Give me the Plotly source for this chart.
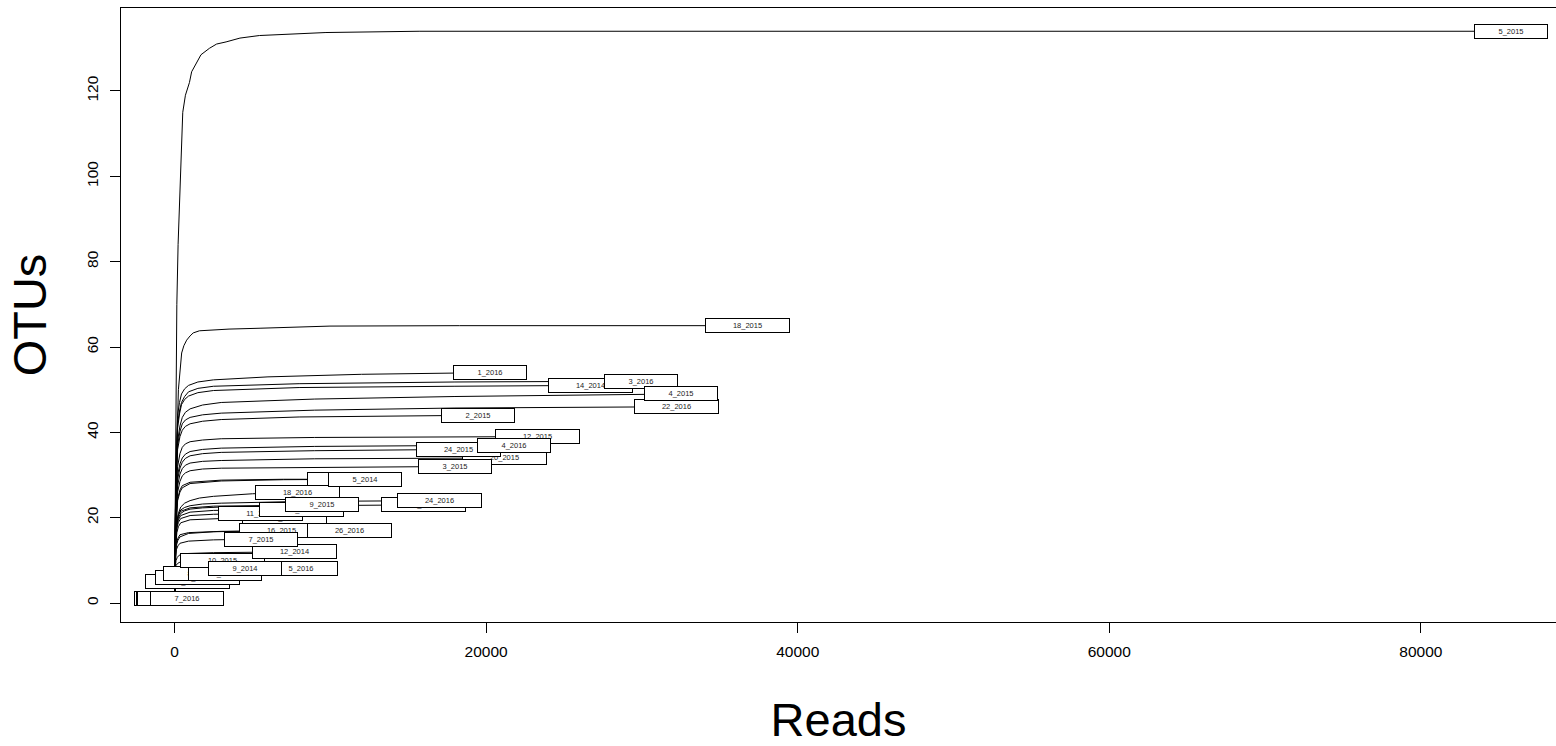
import plotly.graph_objects as go

# Rarefaction curves: sequencing depth (reads) vs. observed OTUs per sample.
# Each curve is given by points along it; the last point is the sample's
# total reads and observed OTU count, where its label sits.

labels = [
    "5_2015", "18_2015", "1_2016", "3_2016", "14_2014", "4_2015", "22_2016",
    "2_2015", "12_2015", "4_2016", "24_2015", "20_2015", "3_2015", "5_2014",
    "13_2014", "18_2016", "24_2016", "16_2016", "9_2015", "19_2015", "11_2016",
    "20_2016", "16_2015", "26_2016", "7_2015", "12_2014", "10_2015", "9_2014",
    "5_2016", "8_2014", "6_2016", "10_2014", "15_2016", "7_2016", "17_2016",
    "21_2016", "23_2016",
]

reads_pts = [
    [1, 60, 110, 150, 230, 320, 400, 530, 700, 960, 1100, 1390, 1700, 2240,
     2700, 3310, 4200, 5450, 7000, 9720, 15700, 40000, 85800],
    [1, 100, 250, 350, 460, 600, 780, 1000, 1200, 1600, 2280, 3500, 5490,
     9980, 18300, 36750],
    [1, 80, 200, 320, 450, 650, 900, 1500, 2500, 6000, 12000, 20250],
    [1, 80, 200, 320, 450, 650, 900, 1500, 2500, 8000, 18000, 29940],
    [1, 80, 200, 320, 450, 650, 900, 1500, 2500, 8000, 18000, 26670],
    [1, 80, 200, 350, 500, 700, 1000, 1800, 3000, 9000, 18000, 32510],
    [1, 80, 200, 350, 500, 700, 1000, 1800, 3000, 9000, 18000, 32250],
    [1, 80, 200, 350, 500, 700, 1000, 1800, 3000, 8000, 19480],
    [1, 80, 200, 350, 500, 700, 1000, 1800, 3000, 9000, 23330],
    [1, 80, 200, 350, 500, 700, 1000, 1800, 3000, 9000, 21790],
    [1, 80, 200, 350, 500, 700, 1000, 1800, 3000, 9000, 18230],
    [1, 80, 200, 350, 500, 700, 1000, 1800, 3000, 9000, 21210],
    [1, 80, 200, 350, 500, 700, 1000, 1800, 3000, 9000, 18000],
    [1, 80, 200, 350, 500, 1000, 3000, 7000, 12200],
    [1, 80, 200, 350, 500, 1000, 3000, 7000, 11200],
    [1, 60, 150, 250, 400, 650, 1000, 1600, 2500, 5000, 7900],
    [1, 60, 150, 250, 400, 650, 1000, 1800, 3000, 8000, 17010],
    [1, 60, 150, 250, 400, 650, 1000, 1800, 3000, 8000, 15950],
    [1, 60, 150, 250, 400, 1000, 2500, 5500, 9470],
    [1, 60, 150, 250, 400, 1000, 2500, 5500, 8180],
    [1, 60, 150, 250, 400, 1000, 2500, 5490],
    [1, 60, 150, 250, 400, 1000, 3000, 7070],
    [1, 50, 120, 220, 350, 900, 2500, 6840],
    [1, 50, 120, 220, 350, 900, 3000, 7000, 11200],
    [1, 50, 120, 220, 350, 900, 2500, 5580],
    [1, 40, 100, 180, 300, 800, 2500, 7730],
    [1, 40, 100, 180, 300, 800, 3110],
    [1, 40, 100, 300, 800, 4525],
    [1, 40, 100, 300, 1000, 8120],
    [1, 30, 100, 400, 1640],
    [1, 30, 100, 400, 1200, 3240],
    [1, 30, 100, 400, 1480],
    [1, 30, 100, 300, 830],
    [1, 770],
    [1, 100],
    [1, 225],
    [1, 350],
]

otu_pts = [
    [1, 30, 57, 70, 84, 94, 104, 115, 119, 122, 124.5, 126.5, 128.5, 130,
     131, 131.5, 132.4, 133, 133.3, 133.7, 134, 134, 134],
    [1, 30, 50, 55, 58.6, 60.3, 61.6, 62.6, 63.3, 63.8, 64, 64.2, 64.4,
     64.9, 65, 65],
    [1, 30, 44, 47, 49, 50.2, 51, 51.8, 52.3, 53, 53.6, 54],
    [1, 28, 42, 45, 47, 48.4, 49.5, 50.3, 50.8, 51.4, 51.8, 52],
    [1, 28, 41, 44.3, 46.5, 47.7, 48.5, 49.3, 49.8, 50.5, 50.8, 51],
    [1, 26, 38, 41.5, 43.5, 44.7, 45.5, 46.4, 47, 47.8, 48.4, 49],
    [1, 26, 37, 40.2, 42, 42.9, 43.5, 44.1, 44.5, 45.2, 45.7, 46],
    [1, 25, 36, 39, 40.5, 41.4, 42, 42.6, 43, 43.6, 44],
    [1, 22, 32, 35, 36.5, 37.3, 37.8, 38.2, 38.5, 38.8, 39],
    [1, 21, 30, 32.6, 34, 34.9, 35.5, 36, 36.3, 36.7, 37],
    [1, 20, 29, 31.6, 33, 33.9, 34.5, 35, 35.3, 35.7, 36],
    [1, 19, 27.5, 30.2, 31.5, 32.3, 32.8, 33.2, 33.4, 33.8, 34],
    [1, 18, 26, 28.5, 29.8, 30.5, 31, 31.4, 31.6, 31.8, 32],
    [1, 17, 24, 26, 27, 28, 28.6, 28.9, 29],
    [1, 17, 24.5, 26.5, 27.5, 28.3, 28.8, 29, 29],
    [1, 14, 19, 21, 22.5, 23.4, 24, 24.6, 25, 25.6, 26],
    [1, 14, 19, 20.7, 21.8, 22.4, 22.8, 23.2, 23.4, 23.8, 24],
    [1, 13, 18.5, 20, 21, 21.6, 22, 22.3, 22.5, 22.8, 23],
    [1, 14, 19, 20.6, 21.5, 22.3, 22.7, 22.9, 23],
    [1, 13, 18, 19.5, 20.5, 21.3, 21.7, 21.9, 22],
    [1, 13, 17.5, 18.9, 19.8, 20.5, 20.8, 21],
    [1, 12, 16.5, 17.9, 18.8, 19.5, 19.8, 20],
    [1, 10, 13.5, 14.7, 15.5, 16.3, 16.7, 17],
    [1, 10, 14, 15.2, 16, 16.5, 16.8, 16.9, 17],
    [1, 9, 12.5, 13.4, 14, 14.5, 14.8, 15],
    [1, 8, 10, 10.7, 11.2, 11.6, 11.8, 12],
    [1, 7, 8.8, 9.2, 9.5, 9.8, 10],
    [1, 5.5, 6.8, 7.5, 7.8, 8],
    [1, 5.5, 7, 7.6, 7.9, 8],
    [1, 4.5, 6, 6.7, 7],
    [1, 4.5, 6, 6.6, 6.9, 7],
    [1, 4, 5.2, 5.8, 6],
    [1, 3.5, 4.3, 4.8, 5],
    [1, 1],
    [1, 1],
    [1, 1],
    [1, 1],
]

# Order in which the boxed labels are stacked (later ones sit on top).
label_order = [
    "17_2016", "21_2016", "23_2016", "15_2016", "10_2014", "8_2014", "6_2016",
    "10_2015", "20_2016", "16_2015", "11_2016", "19_2015", "16_2016", "13_2014",
    "20_2015", "14_2014", "7_2016", "5_2016", "9_2014", "12_2014", "7_2015",
    "26_2016", "18_2016", "9_2015", "24_2016", "5_2014", "3_2015", "24_2015",
    "12_2015", "4_2016", "2_2015", "22_2016", "3_2016", "4_2015", "1_2016",
    "18_2015", "5_2015",
]

x_ticks = [0, 20000, 40000, 60000, 80000]
y_ticks = [0, 20, 40, 60, 80, 100, 120]

fig = go.Figure()

for name, xs, ys in zip(labels, reads_pts, otu_pts):
    fig.add_trace(go.Scatter(
        x=xs, y=ys, mode="lines", name=name,
        line=dict(color="black", width=1),
        showlegend=False, hoverinfo="skip",
    ))

end_point = {name: (xs[-1], ys[-1]) for name, xs, ys in zip(labels, reads_pts, otu_pts)}

annotations = []
for name in label_order:
    ex, ey = end_point[name]
    box_w = 74 if len(name) <= 6 else 85
    annotations.append(dict(
        x=ex, y=ey, xref="x", yref="y", text=name, showarrow=False,
        xanchor="center", yanchor="middle",
        width=box_w - 2, height=13, align="center", valign="middle",
        bgcolor="white", bordercolor="black", borderwidth=1, borderpad=0,
        font=dict(family="Liberation Sans, Arial, sans-serif", size=7.5, color="#222"),
    ))

font_main = "Liberation Sans, Arial, sans-serif"

fig.update_layout(
    width=1556, height=746,
    margin=dict(l=121, r=0, t=8, b=124),
    paper_bgcolor="white", plot_bgcolor="white",
    annotations=annotations,
    font=dict(family=font_main, color="black"),
    xaxis=dict(
        range=[-3434, 88671], tickvals=x_ticks, ticktext=[str(v) for v in x_ticks],
        ticks="outside", ticklen=10, tickwidth=1, tickcolor="black",
        showline=True, linecolor="black", linewidth=1, mirror=True,
        showgrid=False, zeroline=False,
        tickfont=dict(size=15.5, family=font_main, color="black"),
        ticklabelstandoff=5,
        title=dict(text="Reads", font=dict(size=47, family=font_main, color="black"), standoff=45),
    ),
    yaxis=dict(
        range=[-4.45, 139.45], tickvals=y_ticks, ticktext=[str(v) for v in y_ticks],
        ticks="outside", ticklen=10, tickwidth=1, tickcolor="black",
        showline=True, linecolor="black", linewidth=1, mirror=False,
        showgrid=False, zeroline=False, tickangle=-90,
        tickfont=dict(size=15.5, family=font_main, color="black"),
        ticklabelstandoff=6,
        title=dict(text="OTUs", font=dict(size=47, family=font_main, color="black"), standoff=22),
    ),
)

fig.write_html("out.html")
